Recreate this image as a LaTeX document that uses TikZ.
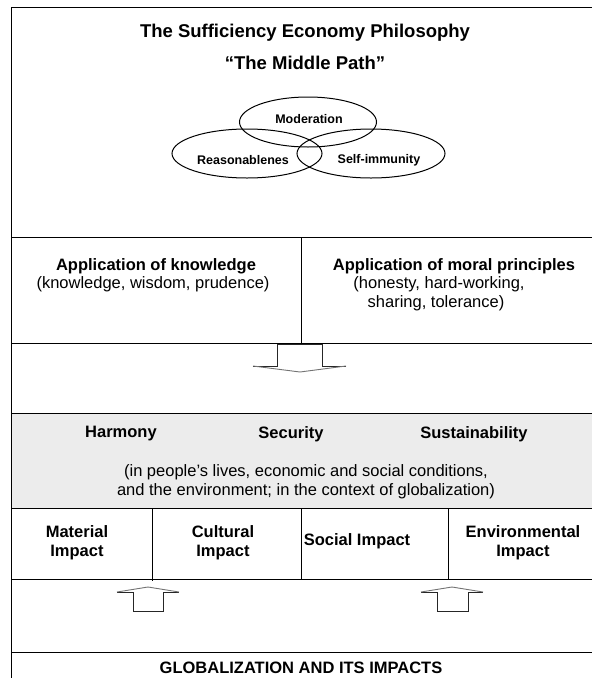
\documentclass[tikz,border=0pt]{standalone}
\usepackage{fontspec}
\setmainfont{Liberation Sans}
\usetikzlibrary{shapes.geometric}
\begin{document}
\begin{tikzpicture}[x=1pt,y=-1pt,line width=1pt,
  ttl/.style={font=\fontsize{18.5}{22}\selectfont\bfseries,inner sep=0pt},
  hd/.style={font=\fontsize{16.5}{20}\selectfont\bfseries,inner sep=0pt},
  bd/.style={font=\fontsize{16.5}{20}\selectfont,inner sep=0pt},
  ell/.style={draw,ellipse,inner sep=0pt},
  elltxt/.style={inner sep=0pt,font=\fontsize{12.5}{15}\selectfont\bfseries},
  shaft/.style={draw=black!85,line width=1pt},
  head/.style={draw=black!55,line width=0.9pt}]
\useasboundingbox (0,0) rectangle (592,678);
\clip (0,0) rectangle (592,678);
% grey band
\fill[gray!15] (11,413) rectangle (600,508);
% frame and divisions
\draw (600,7) -- (11,7) -- (11,700);
\draw (11,237) -- (600,237);
\draw (11,343) -- (600,343);
\draw (11,413) -- (600,413);
\draw (11,508) -- (600,508);
\draw (11,579) -- (600,579);
\draw (11,652) -- (600,652);
\draw (301,237) -- (301,343);
\draw (152,508) -- (152,581);
\draw (301,508) -- (301,579);
\draw (448,508) -- (448,579);
% title
\node[ttl] (title) at (305,33) {The Sufficiency Economy Philosophy};
\node[ttl] (mpath) at (305,63) {“The Middle Path”};
% ellipses
\node[ell,minimum width=137pt,minimum height=50pt] (moder) at (308,122) {};
\node[ell,minimum width=150pt,minimum height=49pt] (reason) at (247,153.5) {};
\node[ell,minimum width=148pt,minimum height=49pt] (selfim) at (371,153.5) {};
\node[elltxt] (modert) at (309,119) {Moderation};
\node[elltxt] (reasont) at (243,160) {Reasonablenes};
\node[elltxt] (selfimt) at (379,160) {Self-immunity};
% application boxes
\node[hd] (appk) at (156,266) {Application of knowledge};
\node[bd] (appkb) at (153,284) {(knowledge, wisdom, prudence)};
\node[hd] (appm) at (454,266) {Application of moral principles};
\node[bd] (appmb) at (439,284) {(honesty, hard-working,};
\node[bd] (appmc) at (436,303) {sharing, tolerance)};
% down arrow
\draw[shaft] (253,366) -- (277,366) -- (277,344) -- (322,344) -- (322,366) -- (346,366);
\draw[head] (253,366) -- (300,372) -- (346,366);
% harmony band
\node[hd] (harm) at (121,434) {Harmony};
\node[hd] (secu) at (291,434) {Security};
\node[hd] (sust) at (474,434) {Sustainability};
\node[bd] (ctx1) at (306,472) {(in people’s lives, economic and social conditions,};
\node[bd] (ctx2) at (306,491) {and the environment; in the context of globalization)};
% impacts
\node[hd,align=center,font=\fontsize{16.5}{19}\selectfont\bfseries] (mat) at (77,543) {Material\\Impact};
\node[hd,align=center,font=\fontsize{16.5}{19}\selectfont\bfseries] (cul) at (223,543) {Cultural\\Impact};
\node[hd] (soc) at (357,541) {Social Impact};
\node[hd,align=center,font=\fontsize{16.5}{19}\selectfont\bfseries] (env) at (523,543) {Environmental\\Impact};
% up arrows
\draw[shaft] (117,592) -- (133,592) -- (133,611) -- (163,611) -- (163,592) -- (179,592);
\draw[head] (117,592) -- (148,587) -- (179,592);
\draw[shaft] (421,592) -- (437,592) -- (437,611) -- (468,611) -- (468,592) -- (483,592);
\draw[head] (421,592) -- (452,587) -- (483,592);
% globalization
\node[hd] (glob) at (301,668) {GLOBALIZATION AND ITS IMPACTS};
\end{tikzpicture}
\end{document}
